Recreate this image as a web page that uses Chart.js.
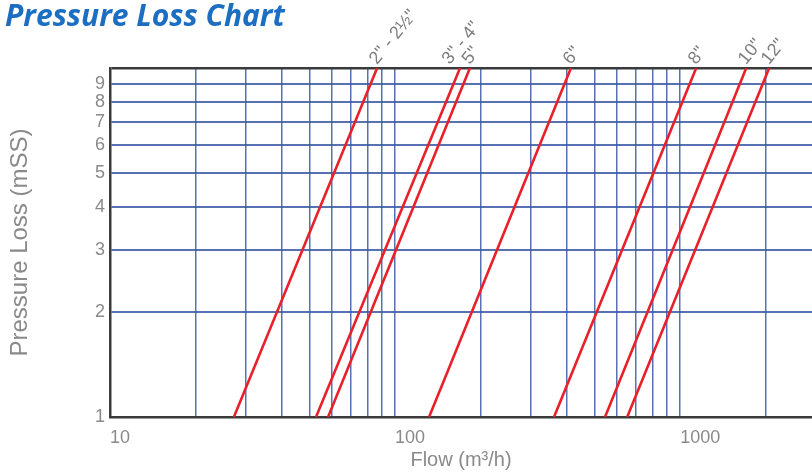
<!DOCTYPE html>
<html>
<head>
<meta charset="utf-8">
<script src="https://cdn.jsdelivr.net/npm/chart.js@4"></script>
<style>
    html, body { margin: 0; padding: 0; background: #fff; overflow: hidden; }
    #wrap { width: 812px; height: 472px; position: relative; }
</style>
</head>
<body>
<div id="wrap"><canvas id="lossChart"></canvas></div>
<script>
// Pipe sizes and the flow (m3/h) where each line meets 1 and 10 mSS
const pipeSizes = ['2" - 2½"', '3" - 4"', '5"', '6"', '8"', '10"', '12"'];
const flowAtLow = [27.2, 52.8, 58.2, 131.6, 361, 545, 652];
const flowAtHigh = [86.5, 169, 183, 414, 1138, 1705, 2052];
const pressureRange = [1, 10];

// Axis ticks
const flowTicks = [10, 20, 30, 40, 50, 60, 70, 80, 90,
    100, 200, 300, 400, 500, 600, 700, 800, 900, 1000, 2000];
const flowLabels = [10, 100, 1000];
const pressureTicks = [1, 2, 3, 4, 5, 6, 7, 8, 9, 10];
const pressureLabels = [1, 2, 3, 4, 5, 6, 7, 8, 9];
const flowRange = [10, 2900];

const gridBlue = 'rgba(58, 88, 165, 0.85)';
const axisDark = '#3a3a3a';
const textGray = '#8a8a8a';

// Draw the pipe size next to the top end of every line,
// pushing a label left when it would crowd the one to its right
const sizeLabels = {
    id: 'sizeLabels',
    afterDatasetsDraw(chart) {
        const ctx = chart.ctx;
        const minGap = 20;
        ctx.save();
        ctx.font = '18px "Liberation Sans", Arial, sans-serif';
        ctx.fillStyle = '#7d7d7d';
        ctx.textAlign = 'left';
        ctx.textBaseline = 'middle';
        let nextX = Infinity;
        for (let i = chart.data.datasets.length - 1; i >= 0; i--) {
            const pts = chart.getDatasetMeta(i).data;
            const top = pts[pts.length - 1];
            const x = Math.min(top.x - 4, nextX - minGap);
            nextX = x;
            ctx.save();
            ctx.translate(x, top.y - 6);
            ctx.rotate(-51 * Math.PI / 180);
            ctx.fillText(chart.data.datasets[i].label, 0, 0);
            ctx.restore();
        }
        ctx.restore();
    }
};

const datasets = pipeSizes.map((size, i) => ({
    label: size,
    data: [
        { x: flowAtLow[i], y: pressureRange[0] },
        { x: flowAtHigh[i], y: pressureRange[1] }
    ],
    borderColor: '#e8202a',
    borderWidth: 2.6,
    pointRadius: 0,
    fill: false
}));

new Chart(document.getElementById('lossChart'), {
    type: 'line',
    data: { datasets: datasets },
    plugins: [sizeLabels],
    options: {
        responsive: true,
        maintainAspectRatio: false,
        animation: false,
        layout: { padding: { left: 5, right: 0, top: 0, bottom: 0 } },
        plugins: {
            legend: { display: false },
            tooltip: { enabled: false },
            title: {
                display: true,
                text: 'Pressure Loss Chart',
                align: 'start',
                color: '#1b6ec2',
                font: { family: '"Open Sans", Lato, sans-serif', size: 30, weight: 'bold', style: 'italic', lineHeight: 1.0 },
                padding: { top: 2, bottom: 36 }
            }
        },
        scales: {
            x: {
                type: 'logarithmic',
                min: flowRange[0],
                max: flowRange[1],
                afterBuildTicks: scale => {
                    scale.ticks = flowTicks.map(v => ({ value: v }));
                },
                afterFit: scale => { scale.height = 55; },
                ticks: {
                    autoSkip: false,
                    maxRotation: 0,
                    align: 'start',
                    padding: 10,
                    color: textGray,
                    font: { family: '"Liberation Sans", Arial, sans-serif', size: 18 },
                    callback: value => flowLabels.includes(value) ? String(value) : ''
                },
                grid: {
                    color: gridBlue,
                    lineWidth: 1.5,
                    drawTicks: false
                },
                border: { color: axisDark, width: 2.5 },
                title: {
                    display: true,
                    text: 'Flow (m³/h)',
                    color: textGray,
                    font: { family: '"Liberation Sans", Arial, sans-serif', size: 20 },
                    padding: { top: 0, bottom: 0 }
                }
            },
            y: {
                type: 'logarithmic',
                min: pressureRange[0],
                max: pressureRange[1],
                afterBuildTicks: scale => {
                    scale.ticks = pressureTicks.map(v => ({ value: v }));
                },
                afterFit: scale => { scale.width = 105; },
                ticks: {
                    autoSkip: false,
                    padding: 5,
                    color: textGray,
                    font: { family: '"Liberation Sans", Arial, sans-serif', size: 18 },
                    callback: value => pressureLabels.includes(value) ? String(value) : ''
                },
                grid: {
                    color: ctx => ctx.tick && ctx.tick.value === pressureRange[1] ? axisDark : gridBlue,
                    lineWidth: ctx => ctx.tick && ctx.tick.value === pressureRange[1] ? 2.5 : 2,
                    drawTicks: false
                },
                border: { color: axisDark, width: 2.5 },
                title: {
                    display: true,
                    text: 'Pressure Loss (mSS)',
                    color: textGray,
                    font: { family: '"Liberation Sans", Arial, sans-serif', size: 24 },
                    padding: { top: 1, bottom: 0 }
                }
            }
        }
    }
});
</script>
</body>
</html>
